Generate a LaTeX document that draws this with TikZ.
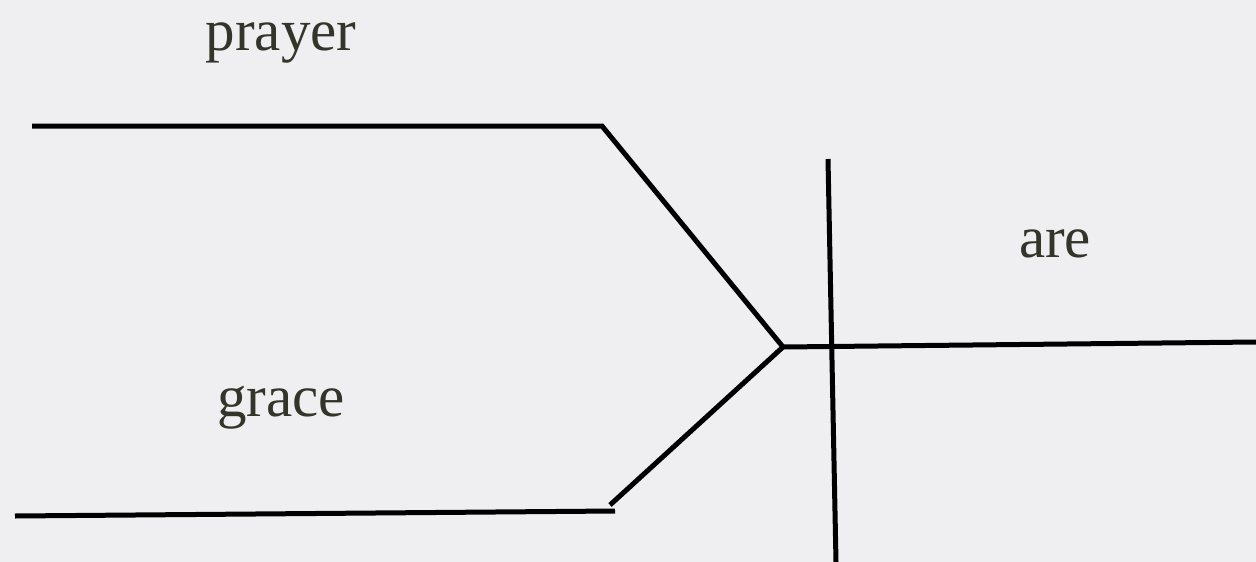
\documentclass[tikz,border=0pt]{standalone}
\usepackage{fontspec}
\setmainfont{Liberation Serif}
\definecolor{bg}{HTML}{EFEFF2}
\definecolor{ink}{HTML}{33352A}
\begin{document}
\begin{tikzpicture}[x=1pt,y=-1pt,
  ruleline/.style={line width=5pt,black},
  word/.style={font=\fontsize{59}{70}\selectfont,text=ink,anchor=base,inner sep=0pt}]
\fill[bg] (0,0) rectangle (1256,562);
\useasboundingbox (0,0) rectangle (1256,562);
\coordinate (tl) at (32,126);
\coordinate (tr) at (602,126);
\coordinate (j) at (783,347);
\coordinate (bl) at (15,516);
\coordinate (br) at (615,511);
\coordinate (bd) at (610,505);
\coordinate (vt) at (828,159);
\coordinate (vb) at (836,562);
\coordinate (hr) at (1256,342);
\draw[ruleline,line join=miter] (tl) -- (tr) -- (j);
\draw[ruleline] (bl) -- (br);
\draw[ruleline] (bd) -- (j);
\draw[ruleline] (j) -- (hr);
\draw[ruleline] (vt) -- (vb);
\node[word] (prayer) at (281,50) {prayer};
\node[word] (grace) at (281,416) {grace};
\node[word] (are) at (1055,257) {are};
\end{tikzpicture}
\end{document}
